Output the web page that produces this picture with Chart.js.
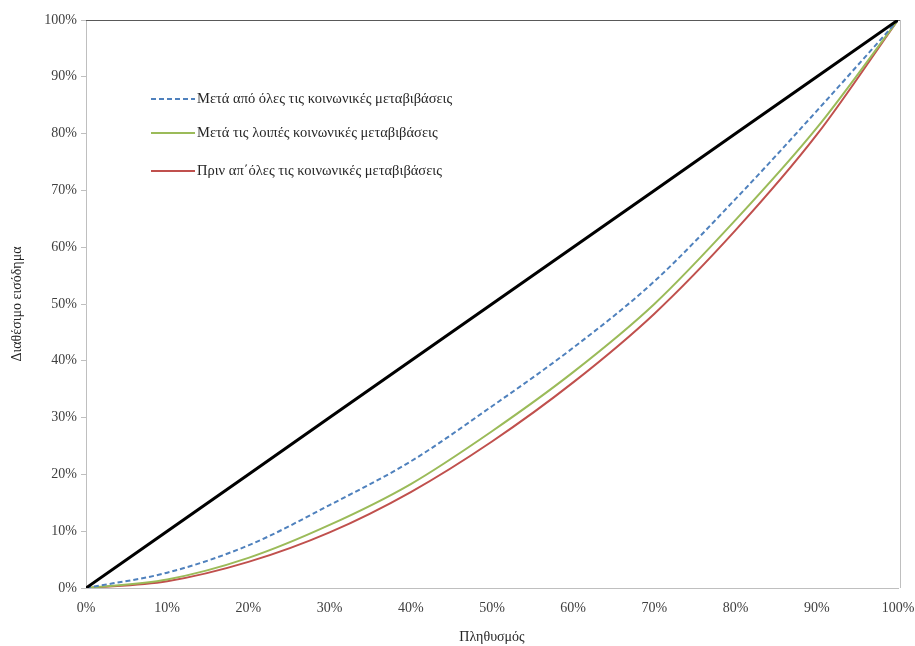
<!DOCTYPE html>
<html>
<head>
<meta charset="utf-8">
<script src="https://cdn.jsdelivr.net/npm/chart.js@4/dist/chart.umd.min.js"></script>
<style>
html,body{margin:0;padding:0;background:#fff;}
#wrap{position:relative;width:915px;height:646px;}
</style>
</head>
<body>
<div id="wrap"><canvas id="c" width="915" height="646"></canvas></div>
<script>
const population = [0, 10, 20, 30, 40, 50, 60, 70, 80, 90, 100];
const equality   = [0, 10, 20, 30, 40, 50, 60, 70, 80, 90, 100];
const afterAll   = [0, 2.7, 7.5, 14.6, 22.3, 32.0, 42.3, 54.0, 68.5, 84.0, 100];
const afterOther = [0, 1.5, 5.3, 11.1, 18.3, 27.6, 38.0, 50.0, 64.8, 81.0, 100];
const beforeAll  = [0, 1.2, 4.6, 9.8, 16.9, 25.8, 36.2, 48.3, 63.0, 79.8, 100];
const seriesNames = [
  "Μετά από όλες τις κοινωνικές μεταβιβάσεις",
  "Μετά τις λοιπές κοινωνικές μεταβιβάσεις",
  "Πριν απ΄όλες τις κοινωνικές μεταβιβάσεις"
];
const xTitle = "Πληθυσμός";
const yTitle = "Διαθέσιμο εισόδημα";

const pts = arr => population.map((x, i) => ({x: x, y: arr[i]}));
const serif = "'Liberation Serif', 'DejaVu Serif', serif";

const legendPlugin = {
  id: 'insideLegend',
  afterDatasetsDraw(chart) {
    const ctx = chart.ctx;
    const rows = [99, 133, 171];
    const items = [1, 2, 3];
    ctx.save();
    items.forEach((di, k) => {
      const ds = chart.data.datasets[di];
      const y = rows[k];
      ctx.beginPath();
      ctx.strokeStyle = ds.borderColor;
      ctx.lineWidth = ds.borderWidth;
      ctx.setLineDash(ds.borderDash || []);
      ctx.moveTo(151, y);
      ctx.lineTo(195, y);
      ctx.stroke();
      ctx.setLineDash([]);
      ctx.fillStyle = '#262626';
      ctx.font = "14.5px " + serif;
      ctx.textBaseline = 'middle';
      ctx.textAlign = 'left';
      ctx.fillText(ds.label, 197, y);
    });
    ctx.restore();
  },
  beforeDatasetsDraw(chart) {
    const a = chart.chartArea, ctx = chart.ctx;
    ctx.save();
    ctx.lineWidth = 1;
    ctx.strokeStyle = '#595959';
    ctx.beginPath(); ctx.moveTo(a.left, a.top + 0.5); ctx.lineTo(a.right + 2, a.top + 0.5); ctx.stroke();
    ctx.strokeStyle = '#bfbfbf';
    ctx.beginPath(); ctx.moveTo(a.right + 2.5, a.top); ctx.lineTo(a.right + 2.5, a.bottom); ctx.stroke();
    ctx.restore();
  }
};

new Chart(document.getElementById('c'), {
  type: 'line',
  data: {
    datasets: [
      {label: 'Ισοκατανομή', data: pts(equality), borderColor: '#000000', borderWidth: 3, pointRadius: 0, tension: 0},
      {label: seriesNames[0], data: pts(afterAll), borderColor: '#4f81bd', borderWidth: 2, borderDash: [5, 3], pointRadius: 0, cubicInterpolationMode: 'monotone'},
      {label: seriesNames[1], data: pts(afterOther), borderColor: '#9bbb59', borderWidth: 2, pointRadius: 0, cubicInterpolationMode: 'monotone'},
      {label: seriesNames[2], data: pts(beforeAll), borderColor: '#c0504d', borderWidth: 2, pointRadius: 0, cubicInterpolationMode: 'monotone'}
    ]
  },
  options: {
    responsive: false,
    animation: false,
    layout: {padding: {left: 0, right: 0, top: 20, bottom: 0}},
    plugins: {legend: {display: false}, tooltip: {enabled: false}},
    scales: {
      x: {
        type: 'linear', min: 0, max: 100,
        afterFit(s) { s.height = 58; s.paddingRight = 17; },
        ticks: {stepSize: 10, callback: v => v + '%', color: '#404040', font: {family: serif, size: 14}, padding: 12, maxRotation: 0},
        grid: {display: true, drawOnChartArea: false, tickLength: 0, color: '#bfbfbf'},
        border: {color: '#bfbfbf', width: 1},
        title: {display: true, text: xTitle, color: '#262626', font: {family: serif, size: 14}, padding: {top: 8, bottom: 0}}
      },
      y: {
        min: 0, max: 100,
        afterFit(s) { s.width = 86; },
        ticks: {stepSize: 10, callback: v => v + '%', color: '#404040', font: {family: serif, size: 14}, padding: 4},
        grid: {display: true, drawOnChartArea: false, tickLength: 5, color: '#bfbfbf'},
        border: {color: '#bfbfbf', width: 1},
        title: {display: true, text: yTitle, color: '#262626', font: {family: serif, size: 14}, padding: {top: 9, bottom: 0}}
      }
    }
  },
  plugins: [legendPlugin]
});
</script>
</body>
</html>
